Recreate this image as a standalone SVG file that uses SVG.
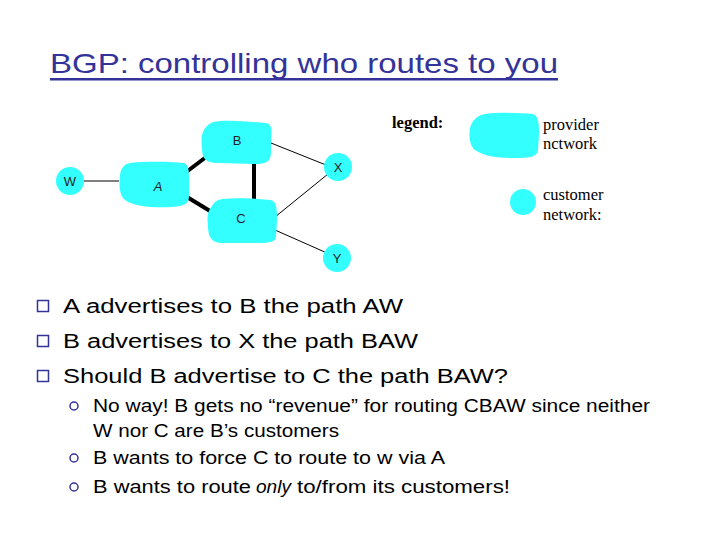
<svg xmlns="http://www.w3.org/2000/svg" width="720" height="540" viewBox="0 0 720 540">
<style>
.title{font-family:"Liberation Sans","DejaVu Sans",sans-serif;font-size:28px;fill:#333399}
.blob{fill:#33ffff}
.thin{stroke:#000;stroke-width:1;fill:none}
.thick{stroke:#000;stroke-width:4;fill:none}
.lbl{font-family:"Liberation Sans","DejaVu Sans",sans-serif;font-size:13px;fill:#222;text-anchor:middle}
.leg{font-family:"Liberation Serif","Times New Roman",serif;font-size:16.5px;fill:#000}
.b1{font-family:"Liberation Sans","DejaVu Sans",sans-serif;font-size:20px;fill:#000}
.b2{font-family:"Liberation Sans","DejaVu Sans",sans-serif;font-size:17.5px;fill:#000}
.sq{fill:#fff;stroke:#333399;stroke-width:1.5}
.ci{fill:#fff;stroke:#333399;stroke-width:1.5}
</style>
<rect width="720" height="540" fill="#fff"/>
<g id="title">
<text class="title" x="50" y="73" textLength="508" lengthAdjust="spacingAndGlyphs">BGP: controlling who routes to you</text>
<rect x="50" y="78" width="508" height="2.5" fill="#333399"/>
</g>
<g id="connectors">
<line class="thin" x1="84" y1="181" x2="119" y2="181"/>
<line class="thick" x1="185" y1="173" x2="210" y2="154"/>
<line class="thick" x1="187" y1="197" x2="210" y2="211"/>
<line class="thick" x1="254" y1="163" x2="254" y2="199"/>
<line class="thin" x1="271" y1="143" x2="326" y2="165"/>
<line class="thin" x1="275" y1="217" x2="328" y2="174"/>
<line class="thin" x1="275" y1="230" x2="327" y2="253"/>
</g>
<g id="W"><circle class="blob" cx="70" cy="181" r="14"/><text class="lbl" x="70" y="186">W</text></g>
<g id="A"><path class="blob" d="M130 163 C150 161 170 162 184 163 C189 165 189 172 189 180 L189 196 C189 204 184 206 172 207 C155 208 135 207 125 200 C119 195 119 185 120 175 C121 168 124 164 130 163 Z"/><text class="lbl" x="158" y="191" font-style="italic">A</text></g>
<g id="B"><path class="blob" d="M213 122 C228 119 250 122 266 123 C272 124 272 130 271 140 L271 152 C271 162 266 164 255 164 L218 163 C205 163 202 158 202 148 C201 140 200 128 213 122 Z"/><text class="lbl" x="237" y="145">B</text></g>
<g id="C"><path class="blob" d="M222 199 C240 197 260 199 271 200 C277 202 277 210 277 220 L276 236 C276 242 270 243 258 243 L222 243 C211 243 208 236 208 226 C207 218 207 212 212 206 C215 201 218 200 222 199 Z"/><text class="lbl" x="241" y="223">C</text></g>
<g id="X"><circle class="blob" cx="338" cy="167" r="14"/><text class="lbl" x="338" y="172">X</text></g>
<g id="Y"><circle class="blob" cx="337" cy="258" r="14"/><text class="lbl" x="337" y="263">Y</text></g>
<g id="legend">
<text class="leg" x="392" y="128" font-weight="bold">legend:</text>
<path class="blob" d="M485 114 C500 112 520 113 533 114 C539 116 539 125 539 135 L538 150 C537 157 530 158 515 158 C500 158 485 157 475 150 C469 145 469 135 470 128 C472 120 478 115 485 114 Z"/>
<text class="leg" x="543" y="130">provider</text>
<text class="leg" x="543" y="149">nctwork</text>
<circle class="blob" cx="523" cy="202" r="13"/>
<text class="leg" x="543" y="200">customer</text>
<text class="leg" x="543" y="220">network:</text>
</g>
<g id="bullets">
<rect class="sq" x="37.5" y="300.5" width="11" height="11"/>
<rect class="sq" x="37.5" y="335.5" width="11" height="11"/>
<rect class="sq" x="37.5" y="370.5" width="11" height="11"/>
<text class="b1" x="63" y="313" textLength="340" lengthAdjust="spacingAndGlyphs">A advertises to B the path AW</text>
<text class="b1" x="63" y="348" textLength="355" lengthAdjust="spacingAndGlyphs">B advertises to X the path BAW</text>
<text class="b1" x="63" y="383" textLength="445" lengthAdjust="spacingAndGlyphs">Should B advertise to C the path BAW?</text>
<circle class="ci" cx="74" cy="406" r="4"/>
<circle class="ci" cx="74" cy="458" r="4"/>
<circle class="ci" cx="74" cy="487" r="4"/>
<text class="b2" x="93" y="412" textLength="557" lengthAdjust="spacingAndGlyphs">No way! B gets no “revenue” for routing CBAW since neither</text>
<text class="b2" x="93" y="437" textLength="246" lengthAdjust="spacingAndGlyphs">W nor C are B’s customers</text>
<text class="b2" x="93" y="464" textLength="352" lengthAdjust="spacingAndGlyphs">B wants to force C to route to w via A</text>
<text class="b2" x="93" y="493" textLength="158" lengthAdjust="spacingAndGlyphs">B wants to route</text>
<text class="b2" x="256" y="493" textLength="35" lengthAdjust="spacingAndGlyphs" fill="#cc2222" font-style="italic">only</text>
<text class="b2" x="297" y="493" textLength="213" lengthAdjust="spacingAndGlyphs">to/from its customers!</text>
</g>
</svg>
